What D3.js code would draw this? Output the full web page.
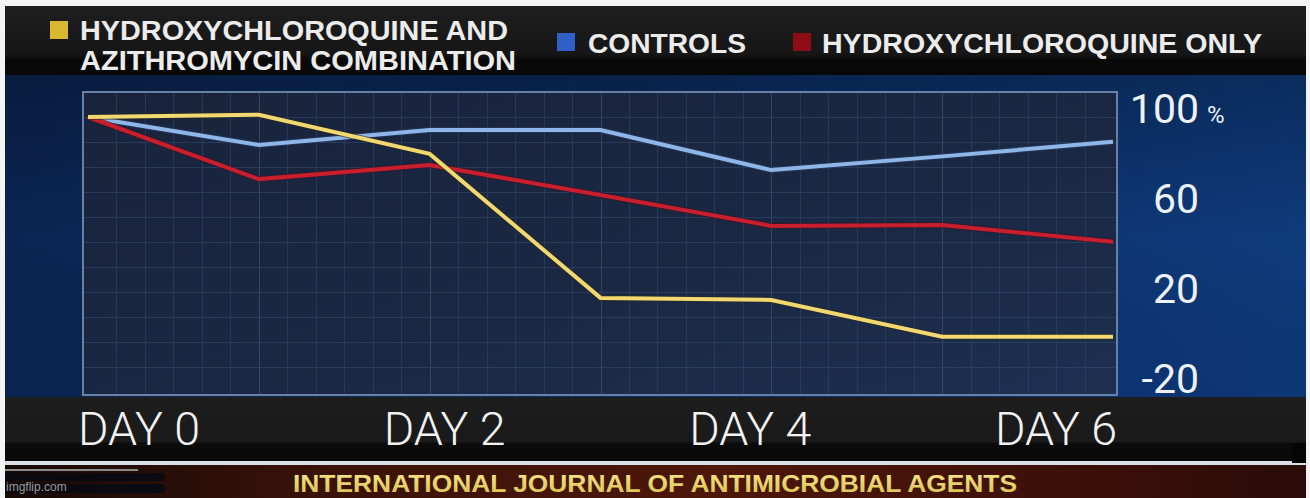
<!DOCTYPE html>
<html><head><meta charset="utf-8">
<script src="https://cdn.jsdelivr.net/npm/d3@7"></script>
<style>html,body{margin:0;padding:0;background:#fff;overflow:hidden}svg{display:block}</style>
</head><body>
<script>
// ---- data ----
const days = [0, 1, 2, 3, 4, 5, 6];
const dayLabels = ["DAY 0", "DAY 2", "DAY 4", "DAY 6"];
const yTicks = [100, 60, 20, -20];
const comboValues = [96, 97, 79.6, 15.6, 14.7, -1.7, -1.7];
const controlValues = [96, 83.6, 90.2, 90.2, 72.4, 78.5, 85];
const hcqValues = [96, 68.4, 74.7, 61.3, 47.6, 48, 40.6];
const seriesNames = ["HYDROXYCHLOROQUINE AND|AZITHROMYCIN COMBINATION", "CONTROLS", "HYDROXYCHLOROQUINE ONLY"];
const footerText = "INTERNATIONAL JOURNAL OF ANTIMICROBIAL AGENTS";

const W = 1310, H = 498;
const svg = d3.select("body").append("svg").attr("width", W).attr("height", H);
const defs = svg.append("defs");

function lg(id, x2, y2, stops) {
  const g = defs.append("linearGradient").attr("id", id).attr("x1", 0).attr("y1", 0).attr("x2", x2).attr("y2", y2);
  stops.forEach(s => g.append("stop").attr("offset", s[0]).attr("stop-color", s[1]));
}
lg("topband", 0, 1, [[0, "#1e1e1e"], [0.7, "#161616"], [0.78, "#090909"], [1, "#080808"]]);
lg("bluepanel", 1, 0, [[0, "#0b2553"], [0.5, "#0c2d64"], [1, "#0e3b7c"]]);
lg("bluev", 0, 1, [[0, "rgba(0,0,0,0.25)"], [0.5, "rgba(0,0,0,0)"], [1, "rgba(0,20,60,0.1)"]]);
lg("plotbg", 1, 1, [[0, "#19243c"], [0.6, "#1a2843"], [1, "#1d3050"]]);
lg("botband", 0, 1, [[0, "#1d1d1d"], [0.7, "#1a1a1a"], [0.72, "#0b0b0b"], [1, "#090909"]]);
lg("banner", 1, 0, [[0, "#160a06"], [0.25, "#3a1208"], [0.55, "#4e170a"], [0.85, "#3a0f08"], [1, "#2a0c08"]]);
lg("bannerText", 0, 1, [[0, "#f4e68a"], [1, "#d8c050"]]);

// background panels
svg.append("rect").attr("x", 0).attr("y", 0).attr("width", W).attr("height", H).attr("fill", "#f4f4f4");
svg.append("rect").attr("x", 5).attr("y", 6).attr("width", 1301).attr("height", 69).attr("fill", "url(#topband)");
svg.append("rect").attr("x", 5).attr("y", 75).attr("width", 1301).attr("height", 322).attr("fill", "url(#bluepanel)");
svg.append("rect").attr("x", 5).attr("y", 75).attr("width", 1301).attr("height", 322).attr("fill", "url(#bluev)");
svg.append("rect").attr("x", 5).attr("y", 397).attr("width", 1301).attr("height", 64).attr("fill", "url(#botband)");
svg.append("rect").attr("x", 5).attr("y", 461).attr("width", 1301).attr("height", 4).attr("fill", "#d9dee8");
svg.append("rect").attr("x", 5).attr("y", 465).attr("width", 1301).attr("height", 33).attr("fill", "url(#banner)");

// scales
const x = d3.scaleLinear().domain([0, 6]).range([88, 1113]);
const y = d3.scaleLinear().domain([-20, 100]).range([378, 108]);
const frame = {x0: 83, x1: 1117, y0: 92, y1: 395};

// plot area
svg.append("rect").attr("x", frame.x0).attr("y", frame.y0).attr("width", frame.x1 - frame.x0).attr("height", frame.y1 - frame.y0)
  .attr("fill", "url(#plotbg)");

// grid (decorative, six divisions per day / 12 rows)
const gv = d3.range(1, 36).map(i => x(i / 6));
const gridRow = d3.scaleLinear().domain([0, 12]).range([frame.y0, frame.y0 + 300]);
const gh = d3.range(1, 12).map(i => gridRow(i));
const grid = svg.append("g").attr("stroke", "#2e4366").attr("stroke-width", 1).attr("opacity", 0.75);
grid.selectAll("line.v").data(gv).join("line").attr("class", "v")
  .attr("x1", d => Math.round(d) + 0.5).attr("x2", d => Math.round(d) + 0.5).attr("y1", frame.y0).attr("y2", frame.y1)
  .attr("stroke", (d, i) => (i % 6 === 5) ? "#3a5075" : "#2c4064");
grid.selectAll("line.h").data(gh).join("line").attr("class", "h")
  .attr("y1", d => Math.round(d) + 0.5).attr("y2", d => Math.round(d) + 0.5).attr("x1", frame.x0).attr("x2", frame.x1);

svg.append("rect").attr("x", frame.x0).attr("y", frame.y0).attr("width", frame.x1 - frame.x0).attr("height", frame.y1 - frame.y0)
  .attr("fill", "none").attr("stroke", "#6680a6").attr("stroke-width", 2);

// lines
const line = d3.line().x((d, i) => x(days[i])).y(d => y(d));
const series = [
  {vals: controlValues, color: "#8fb6e8", shadow: "#2a3e60"},
  {vals: hcqValues, color: "#c81e2e", shadow: "#3a1420"},
  {vals: comboValues, color: "#f2d870", shadow: "#2a2a20"}
];
series.forEach(s => {
  svg.append("path").attr("d", line(s.vals)).attr("fill", "none").attr("stroke", s.shadow)
    .attr("stroke-width", 6).attr("stroke-linejoin", "miter").attr("opacity", 0.6);
  svg.append("path").attr("d", line(s.vals)).attr("fill", "none").attr("stroke", s.color)
    .attr("stroke-width", 4).attr("stroke-linejoin", "miter");
});

// y tick labels
const yl = svg.append("g").attr("font-family", "Roboto, 'Liberation Sans', sans-serif").attr("font-weight", 400).attr("fill", "#eef1f6");
yl.selectAll("text").data(yTicks).join("text")
  .attr("x", 1199).attr("y", d => y(d) + 15).attr("text-anchor", "end").attr("font-size", 41)
  .text(d => d);
yl.append("text").attr("x", 1207).attr("y", y(100) + 15).attr("font-size", 24).text("%");

// x labels
const xl = d3.scalePoint().domain(dayLabels).range([139, 1056]);
svg.append("g").selectAll("text").data(dayLabels).join("text")
  .attr("x", d => xl(d)).attr("y", 445).attr("text-anchor", "middle")
  .attr("font-family", "Roboto, 'Liberation Sans', sans-serif").attr("font-weight", 300)
  .attr("font-size", 46).attr("fill", "#f2f2f2")
  .attr("textLength", 122).attr("lengthAdjust", "spacingAndGlyphs")
  .text(d => d);

// legend
const leg = svg.append("g").attr("font-family", "'Liberation Sans', Arial, sans-serif").attr("font-weight", "bold")
  .attr("font-size", 27).attr("fill", "#ececec");
const legColors = ["#d8b830", "#2f60c8", "#8e0c16"];
const legBoxes = [[50, 21], [557, 33], [793, 33]];
const legText = [[80, [40, 70], [428, 436]], [588, [53], [158]], [822, [53], [440]]];
seriesNames.forEach((nm, i) => {
  leg.append("rect").attr("x", legBoxes[i][0]).attr("y", legBoxes[i][1]).attr("width", 18).attr("height", 18)
    .attr("fill", legColors[i]);
  nm.split("|").forEach((ln, j) => {
    leg.append("text").attr("x", legText[i][0]).attr("y", legText[i][1][j])
      .attr("textLength", legText[i][2][j]).attr("lengthAdjust", "spacingAndGlyphs").text(ln);
  });
});

// footer
svg.append("text").attr("x", 655).attr("y", 492).attr("text-anchor", "middle")
  .attr("font-family", "'Liberation Sans', Arial, sans-serif").attr("font-weight", "bold").attr("font-size", 23)
  .attr("fill", "url(#bannerText)").attr("textLength", 724).attr("lengthAdjust", "spacingAndGlyphs").text(footerText);

// imgflip watermark
svg.append("rect").attr("x", 5).attr("y", 469).attr("width", 133).attr("height", 2).attr("fill", "#8a8a8a");
svg.append("rect").attr("x", 5).attr("y", 473).attr("width", 160).attr("height", 8).attr("rx", 4).attr("fill", "#0a0a10");
svg.append("rect").attr("x", 5).attr("y", 484).attr("width", 160).attr("height", 9).attr("rx", 4).attr("fill", "#0a0a10");
svg.append("text").attr("x", 6).attr("y", 491).attr("font-family", "'Liberation Sans', Arial, sans-serif")
  .attr("font-size", 12).attr("fill", "#9a9a9a").text("imgflip.com");
svg.append("rect").attr("x", 1292).attr("y", 443).attr("width", 14).attr("height", 20).attr("fill", "#050505");
</script>
</body></html>
